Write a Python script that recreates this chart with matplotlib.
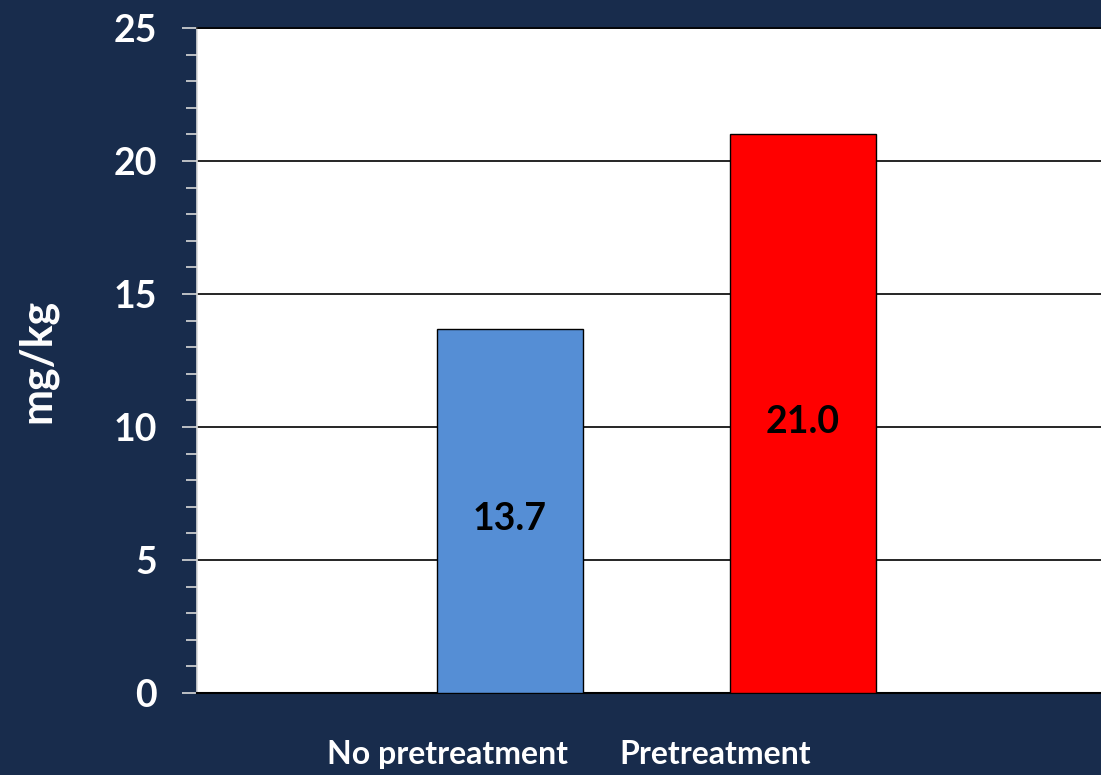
import matplotlib
matplotlib.use("Agg")
import matplotlib.pyplot as plt
from matplotlib.ticker import MultipleLocator

categories = ["No pretreatment", "Pretreatment"]
values = [13.7, 21.0]
bar_colors = ["#558ed5", "#ff0000"]
y_label = "mg/kg"

BG = "#182c4c"
FONT = "Lato"

fig = plt.figure(figsize=(11.01, 7.75), dpi=100, facecolor=BG)
ax = fig.add_axes([197 / 1101, 1 - 693 / 775, 1 - 197 / 1101, (693 - 28) / 775])
ax.set_facecolor("white")

x = list(range(len(categories)))
width = 0.5
bars = ax.bar(x, values, width=width, color=bar_colors, edgecolor="black",
              linewidth=1.0, zorder=3)

ax.set_xlim(-1.068, 2.017)
ax.set_ylim(0, 25)

# horizontal gridlines
ax.yaxis.set_major_locator(MultipleLocator(5))
ax.yaxis.set_minor_locator(MultipleLocator(1))
ax.grid(axis="y", which="major", color="black", linewidth=1.2, zorder=1)
ax.set_axisbelow(True)

ax.spines["right"].set_visible(False)
ax.spines["top"].set_color("black")
ax.spines["top"].set_linewidth(1.2)
ax.spines["bottom"].set_color("black")
ax.spines["bottom"].set_linewidth(1.5)
ax.spines["left"].set_color("#d9d9d9")
ax.spines["left"].set_linewidth(1.2)

ax.tick_params(axis="y", which="major", length=11, width=1.2, color="#d9d9d9",
               labelcolor="white", labelsize=27, pad=18)
ax.tick_params(axis="y", which="minor", length=8, width=1.2, color="#d9d9d9")
for lbl in ax.get_yticklabels():
    lbl.set_fontfamily(FONT)
    lbl.set_fontweight("bold")

ax.set_xticks([])
for xi, name in zip(x, categories):
    ax.text(xi - 0.625, -0.092, name, transform=ax.get_xaxis_transform(),
            ha="left", va="center", color="white", fontsize=23,
            fontfamily=FONT, fontweight="bold")

ax.set_ylabel(y_label, color="white", fontsize=31, fontfamily=FONT,
              fontweight="bold", labelpad=40)

for rect, v in zip(bars, values):
    ax.text(rect.get_x() + rect.get_width() / 2, v / 2 - 0.3, f"{v:.1f}",
            ha="center", va="center", color="black", fontsize=27,
            fontfamily=FONT, fontweight="bold", zorder=4)

fig.savefig("out.png", dpi=100, facecolor=BG)
